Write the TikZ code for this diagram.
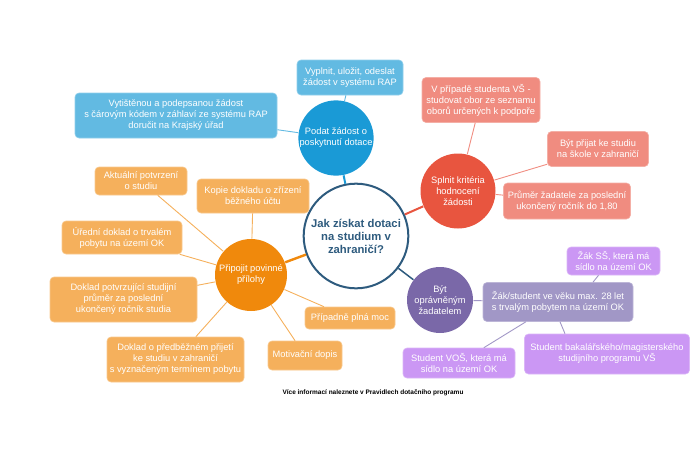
\documentclass[tikz,border=0pt]{standalone}
\usepackage{fontspec}
\setmainfont{Liberation Sans}
\usetikzlibrary{positioning}
\definecolor{cblue}{HTML}{1A9AD6}
\definecolor{cbluel}{HTML}{62BAE2}
\definecolor{cred}{HTML}{E8553F}
\definecolor{credl}{HTML}{F08C80}
\definecolor{corange}{HTML}{F0890C}
\definecolor{corangel}{HTML}{F5B05C}
\definecolor{cpurple}{HTML}{7A68A8}
\definecolor{cpurplel}{HTML}{A197C6}
\definecolor{cviolet}{HTML}{CB97F4}
\definecolor{cnavy}{HTML}{2E5B7E}
\tikzset{
  every picture/.style={line width=1pt},
  box/.style={fill=#1, draw=#1!70!white, line width=0.6pt, rounded corners=4pt, align=center, text=white,
    inner sep=2pt, font=\fontsize{9.3}{11}\selectfont},
  box/.default=corangel,
  hub/.style={circle, fill=#1, align=center, text=white, inner sep=0pt, font=\fontsize{9.3}{11}\selectfont},
  link/.style={draw=#1, line width=0.9pt},
  spoke/.style={draw=#1, line width=2pt},
}

\begin{document}
\begin{tikzpicture}[x=1pt, y=-1pt]
  \useasboundingbox (0,0) rectangle (691,461);
  % centre
  \node[circle, draw=cnavy, fill=white, line width=2pt, minimum size=95pt, align=center, text=cnavy,
    font=\fontsize{11.3}{13}\selectfont\bfseries] (jak) at (356,236) {Jak získat dotaci\\na studium v\\zahraničí?};
  % the four topics
  \node[hub=cblue, minimum size=74pt] (podat) at (336,138) {Podat žádost o\\poskytnutí dotace};
  \node[hub=cred, minimum size=75pt] (splnit) at (458,191) {Splnit kritéria\\hodnocení\\žádosti};
  \node[hub=corange, minimum size=72pt] (pripojit) at (251,275) {Připojit povinné\\přílohy};
  \node[hub=cpurple, minimum size=66pt] (byt) at (440,300) {Být\\oprávněným\\žadatelem};
  \draw[spoke=cblue] (jak) -- (podat);
  \draw[spoke=cred] (jak) -- (splnit);
  \draw[spoke=corange, line width=2.4pt] (jak) -- (pripojit);
  \draw[spoke=cnavy, line width=1.5pt] (jak) -- (byt);
  % podat
  \node[box=cbluel, minimum width=106pt, minimum height=35pt] (vyplnit) at (350,77.5) {Vyplnit, uložit, odeslat\\žádost v systému RAP};
  \node[box=cbluel, minimum width=202pt, minimum height=45pt] (vytist) at (176,115.5) {Vytištěnou a podepsanou žádost\\s čárovým kódem v záhlaví ze systému RAP\\doručit na Krajský úřad};
  \draw[link=cbluel] (podat) -- (vyplnit);
  \draw[link=cbluel] (podat) -- (vytist);
  % splnit
  \node[box=credl, minimum width=118pt, minimum height=45pt] (obor) at (481,100) {V případě studenta VŠ -\\studovat obor ze seznamu\\oborů určených k podpoře};
  \node[box=credl, minimum width=101pt, minimum height=35pt] (prijat) at (598,149) {Být přijat ke studiu\\na škole v zahraničí};
  \node[box=credl, minimum width=127pt, minimum height=36pt] (prumer) at (567,201) {Průměr žadatele za poslední\\ukončený ročník do 1,80};
  \draw[link=credl] (splnit) -- (obor);
  \draw[link=credl] (splnit) -- (prijat);
  \draw[link=credl] (splnit) -- (prumer);
  % pripojit
  \node[box, minimum width=92pt, minimum height=28pt] (aktual) at (141,181) {Aktuální potvrzení\\o studiu};
  \node[box, minimum width=112pt, minimum height=34pt] (kopie) at (253,196) {Kopie dokladu o zřízení\\běžného účtu};
  \node[box, minimum width=120pt, minimum height=33pt] (uredni) at (122,237.5) {Úřední doklad o trvalém\\pobytu na území OK};
  \node[box, minimum width=147pt, minimum height=45pt] (doklad) at (123.5,299.5) {Doklad potvrzující studijní\\průměr za poslední\\ukončený ročník studia};
  \node[box, minimum width=90pt, minimum height=22pt] (moc) at (350,318) {Případně plná moc};
  \node[box, minimum width=137pt, minimum height=45pt] (predb) at (175.5,359.5) {Doklad o předběžném přijetí\\ke studiu v zahraničí\\s vyznačeným termínem pobytu};
  \node[box, minimum width=74pt, minimum height=29pt] (motiv) at (305,355.5) {Motivační dopis};
  \foreach \n in {aktual, kopie, uredni, doklad, moc, predb, motiv}
    \draw[link=corangel] (pripojit) -- (\n);
  % byt
  \node[box=cpurplel, minimum width=150pt, minimum height=39pt] (zak) at (558,302) {Žák/student ve věku max. 28 let\\s trvalým pobytem na území OK};
  \node[box=cviolet, minimum width=93pt, minimum height=28pt] (zss) at (613.5,261) {Žák SŠ, která má\\sídlo na území OK};
  \node[box=cviolet, minimum width=112pt, minimum height=30pt] (vos) at (459,363) {Student VOŠ, která má\\sídlo na území OK};
  \node[box=cviolet, minimum width=165pt, minimum height=40pt] (bak) at (607,354) {Student bakalářského/magisterského\\studijního programu VŠ};
  \draw[link=cpurplel] (byt) -- (zak);
  \draw[link=cpurplel] ([xshift=35pt]zak.north) -- ([xshift=-15pt]zss.south);
  \draw[link=cpurplel] (zak) -- (vos);
  \draw[link=cpurplel] ([xshift=2pt]zak.south) -- ([xshift=-42pt]bak.north);
  % footer
  \node[font=\fontsize{6.5}{8}\selectfont\bfseries] (info) at (373,393) {Více informací naleznete v Pravidlech dotačního programu};
\end{tikzpicture}
\end{document}
